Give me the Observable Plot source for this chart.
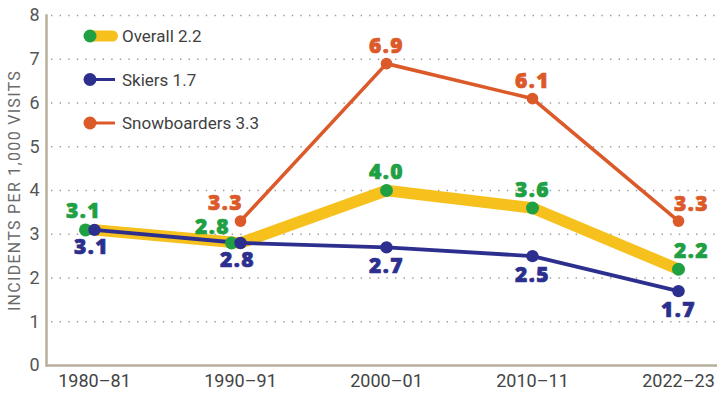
<!DOCTYPE html>
<html>
<head>
<meta charset="utf-8">
<script src="https://cdn.jsdelivr.net/npm/d3@7"></script>
<script src="https://cdn.jsdelivr.net/npm/@observablehq/plot@0.6"></script>
<style>
  html, body { margin: 0; padding: 0; background: #fff; }
  #wrap { position: relative; width: 717px; height: 393px; }
  #legend { position: absolute; left: 0; top: 0; pointer-events: none; }
  .vlabel text { letter-spacing: 1.4px; }
  .ytitle text { letter-spacing: 1.3px; }
</style>
</head>
<body>
<div id="wrap"></div>
<script>
const categories = ["1980–81", "1990–91", "2000–01", "2010–11", "2022–23"];
const overall = [3.1, 2.8, 4.0, 3.6, 2.2];
const skiers = [3.1, 2.8, 2.7, 2.5, 1.7];
const snowboarders = [null, 3.3, 6.9, 6.1, 3.3];
const yTicks = [0, 1, 2, 3, 4, 5, 6, 7, 8];
const gridTicks = [1, 2, 3, 4, 5, 6, 7, 8];
const legendLabels = ["Overall 2.2", "Skiers 1.7", "Snowboarders 3.3"];
const yTitle = "INCIDENTS PER 1,000 VISITS";

const YELLOW = "#f6c11c", GREEN = "#1fa043", NAVY = "#2d2f8e", ORANGE = "#dc5a2a";
const AXIS = "#b7af9b";

const rows = (vals) => vals.map((v, i) => ({cat: categories[i], v, i})).filter(d => d.v != null);
const ov = rows(overall), sk = rows(skiers), sb = rows(snowboarders);

const labelFont = "'Open Sans', Lato, sans-serif";
function labels(data, idx, dx, dy, fill) {
  return Plot.text(data.filter(d => idx.includes(d.i)), {
    x: "cat", y: "v", text: d => d.v.toFixed(1), dx, dy, fill,
    stroke: fill, strokeWidth: 0.7,
    fontSize: 21, fontWeight: 800, fontFamily: labelFont, lineAnchor: "middle",
    className: "vlabel"
  });
}

const chart = Plot.plot({
  width: 717,
  height: 393,
  marginLeft: 46,
  marginRight: 0,
  marginTop: 15,
  marginBottom: 28,
  style: {background: "#fff", fontFamily: "Roboto, sans-serif"},
  x: {type: "point", domain: categories, padding: 0, insetLeft: 46, insetRight: 38},
  y: {domain: [0, 8], ticks: yTicks},
  marks: [
    Plot.ruleY(gridTicks, {stroke: "#9d9d9d", strokeWidth: 1.4, strokeDasharray: "1.4,7.2", insetLeft: 5}),
    Plot.ruleY([0], {stroke: AXIS, strokeWidth: 2.5}),
    Plot.frame({anchor: "left", stroke: AXIS, strokeWidth: 2.5}),
    Plot.axisX({tickSize: 0, tickPadding: 9, fontSize: 18, fill: "#444", label: null}),
    Plot.axisY({tickSize: 0, tickPadding: 7, fontSize: 18, fill: "#555", label: null, ticks: yTicks}),
    Plot.text([yTitle], {frameAnchor: "left", textAnchor: "middle", rotate: -90, dx: -32, fontSize: 16, fill: "#6a6a6a",
      fontFamily: "Roboto, sans-serif", className: "ytitle"}),
    Plot.line(ov, {x: "cat", y: "v", stroke: YELLOW, strokeWidth: 11.5, strokeLinejoin: "round", strokeLinecap: "round"}),
    Plot.line(sb, {x: "cat", y: "v", stroke: ORANGE, strokeWidth: 3.6, strokeLinejoin: "round"}),
    Plot.line(sk, {x: "cat", y: "v", stroke: NAVY, strokeWidth: 3.8, strokeLinejoin: "round"}),
    Plot.dot(ov.filter(d => d.i < 2), {x: "cat", y: "v", r: 6.5, fill: GREEN, dx: -9}),
    Plot.dot(ov.filter(d => d.i >= 2), {x: "cat", y: "v", r: 6.5, fill: GREEN}),
    Plot.dot(sk, {x: "cat", y: "v", r: 6.2, fill: NAVY}),
    Plot.dot(sb, {x: "cat", y: "v", r: 5.8, fill: ORANGE}),
    labels(ov, [0], -11, -19, GREEN),
    labels(ov, [1], -28, -16, GREEN),
    labels(ov, [2, 3], 0, -18, GREEN),
    labels(ov, [4], 13, -18, GREEN),
    labels(sk, [0, 1], -3, 17, NAVY),
    labels(sk, [2, 3, 4], 0, 19, NAVY),
    labels(sb, [1], -15, -18, ORANGE),
    labels(sb, [2, 3], 0, -17, ORANGE),
    labels(sb, [4], 13, -17, ORANGE)
  ]
});

const wrap = document.getElementById("wrap");
wrap.appendChild(chart);

// Legend overlay
const leg = d3.select(wrap).append("svg").attr("id", "legend").attr("width", 300).attr("height", 140);
const legendStyles = [
  {line: YELLOW, lw: 11, dot: GREEN, x2: 112.5, cap: "round"},
  {line: NAVY, lw: 3, dot: NAVY, x2: 115, cap: "butt"},
  {line: ORANGE, lw: 3, dot: ORANGE, x2: 115, cap: "butt"}
];
legendLabels.forEach((lab, i) => {
  const s = legendStyles[i];
  const y = 36 + i * 43.5;
  const g = leg.append("g");
  g.append("line").attr("x1", 90).attr("x2", s.x2).attr("y1", y).attr("y2", y)
    .attr("stroke", s.line).attr("stroke-width", s.lw).attr("stroke-linecap", s.cap);
  g.append("circle").attr("cx", 90).attr("cy", y).attr("r", 6.5).attr("fill", s.dot);
  g.append("text").attr("x", 122).attr("y", y).attr("dy", "0.36em")
    .attr("font-family", "Roboto, sans-serif").attr("font-size", 17).attr("fill", "#3f3f3f")
    .text(lab);
});
</script>
</body>
</html>
